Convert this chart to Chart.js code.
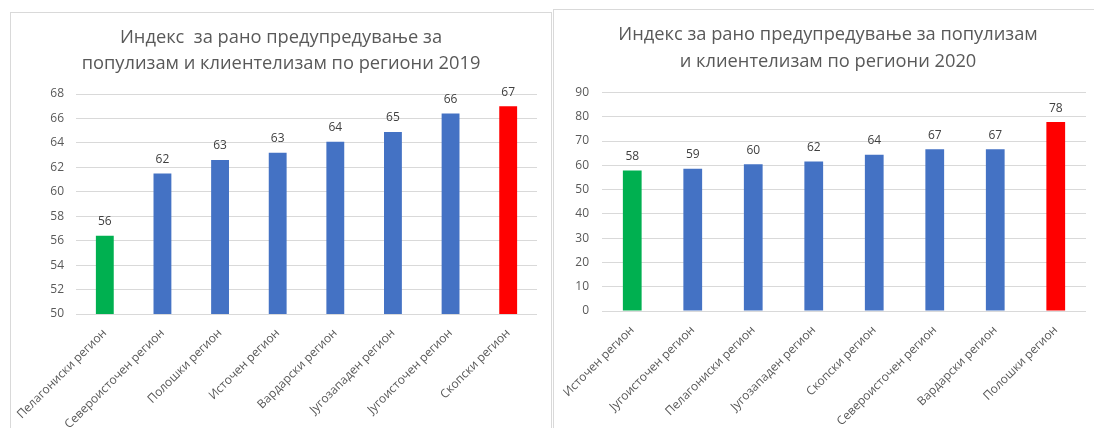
<!DOCTYPE html>
<html>
<head>
<meta charset="utf-8">
<script src="https://cdn.jsdelivr.net/npm/chart.js@4.4.1/dist/chart.umd.min.js"></script>
<style>
  body { margin: 0; background: #fff; width: 1094px; height: 428px; overflow: hidden; position: relative; }
  .box { position: absolute; border: 1px solid #d9d9d9; background: #fff; }
  #box2019 { left: 10px; top: 12px; width: 540px; height: 430px; }
  #box2020 { left: 553px; top: 9px; width: 560px; height: 430px; }
  .wrap { position: relative; }
</style>
</head>
<body>
<div class="box" id="box2019"><div class="wrap" style="width:540px;height:415px"><canvas id="chart2019"></canvas></div></div>
<div class="box" id="box2020"><div class="wrap" style="width:548px;height:418px"><canvas id="chart2020"></canvas></div></div>
<script>
const regioni2019 = [
  'Пелагониски регион', 'Североисточен регион', 'Полошки регион', 'Источен регион',
  'Вардарски регион', 'Југозападен регион', 'Југоисточен регион', 'Скопски регион'
]
const vrednosti2019 = [56.4, 61.5, 62.6, 63.2, 64.1, 64.9, 66.4, 67.0]
const naslov2019 = ['Индекс  за рано предупредување за', 'популизам и клиентелизам по региони 2019']
const yTicks2019 = { min: 50, max: 68, step: 2 }

const regioni2020 = [
  'Источен регион', 'Југоисточен регион', 'Пелагониски регион', 'Југозападен регион',
  'Скопски регион', 'Североисточен регион', 'Вардарски регион', 'Полошки регион'
]
const vrednosti2020 = [57.9, 58.6, 60.4, 61.6, 64.4, 66.6, 66.6, 77.8]
const naslov2020 = ['Индекс за рано предупредување за популизам', 'и клиентелизам по региони 2020']
const yTicks2020 = { min: 0, max: 90, step: 10 }

const ZELENA = '#00B050'
const SINA = '#4472C4'
const CRVENA = '#FF0000'
const FONT = '"Open Sans", sans-serif'

// natpisi so vrednosta nad sekoja kolona
const natpisiVrednosti = {
  id: 'natpisiVrednosti',
  afterDatasetsDraw(chart) {
    const { ctx } = chart
    const ds = chart.data.datasets[0]
    ctx.save()
    ctx.font = '12px ' + FONT
    ctx.fillStyle = '#404040'
    ctx.textAlign = 'center'
    ctx.textBaseline = 'middle'
    chart.getDatasetMeta(0).data.forEach((bar, i) => {
      ctx.fillText(String(Math.round(ds.data[i])), bar.x, bar.y - 14)
    })
    ctx.restore()
  }
}

function napraviGrafik(id, labels, values, yt, naslov, d) {
  const last = values.length - 1
  return new Chart(document.getElementById(id), {
    type: 'bar',
    data: {
      labels,
      datasets: [{
        data: values,
        backgroundColor: c => c.dataIndex === 0 ? ZELENA : (c.dataIndex === last ? CRVENA : SINA),
        categoryPercentage: 1,
        barPercentage: 0.31,
      }]
    },
    options: {
      responsive: true,
      maintainAspectRatio: false,
      animation: false,
      layout: { padding: { left: d.pad, right: d.pad, top: 0, bottom: 0 } },
      plugins: {
        legend: { display: false },
        tooltip: { enabled: false },
        title: {
          display: true,
          text: naslov,
          color: '#595959',
          font: { family: FONT, size: 18.3, weight: 'normal', lineHeight: d.titleLH },
          padding: { top: d.titleTop, bottom: d.titleBottom },
        }
      },
      scales: {
        x: {
          grid: { display: false },
          border: { display: false },
          ticks: {
            color: '#595959',
            font: { family: FONT, size: 12 },
            minRotation: 45,
            maxRotation: 45,
            padding: 4,
          },
          afterFit: s => { s.height = d.xHeight }
        },
        y: {
          min: yt.min,
          max: yt.max,
          grid: { color: '#d9d9d9', drawTicks: false, z: -1 },
          border: { display: false },
          ticks: {
            stepSize: yt.step,
            color: '#595959',
            font: { family: FONT, size: 12 },
            padding: d.tickPad,
          },
          afterFit: s => { s.width = d.yWidth }
        }
      }
    },
    plugins: [natpisiVrednosti]
  })
}

napraviGrafik('chart2019', regioni2019, vrednosti2019, yTicks2019, naslov2019,
  { pad: 14, yWidth: 51, xHeight: 114, tickPad: 12, titleLH: 26 / 18.3, titleTop: 12, titleBottom: 17 })
napraviGrafik('chart2020', regioni2020, vrednosti2020, yTicks2020, naslov2020,
  { pad: 16, yWidth: 32, xHeight: 117, tickPad: 13, titleLH: 27 / 18.3, titleTop: 11.5, titleBottom: 17 })
</script>
</body>
</html>
